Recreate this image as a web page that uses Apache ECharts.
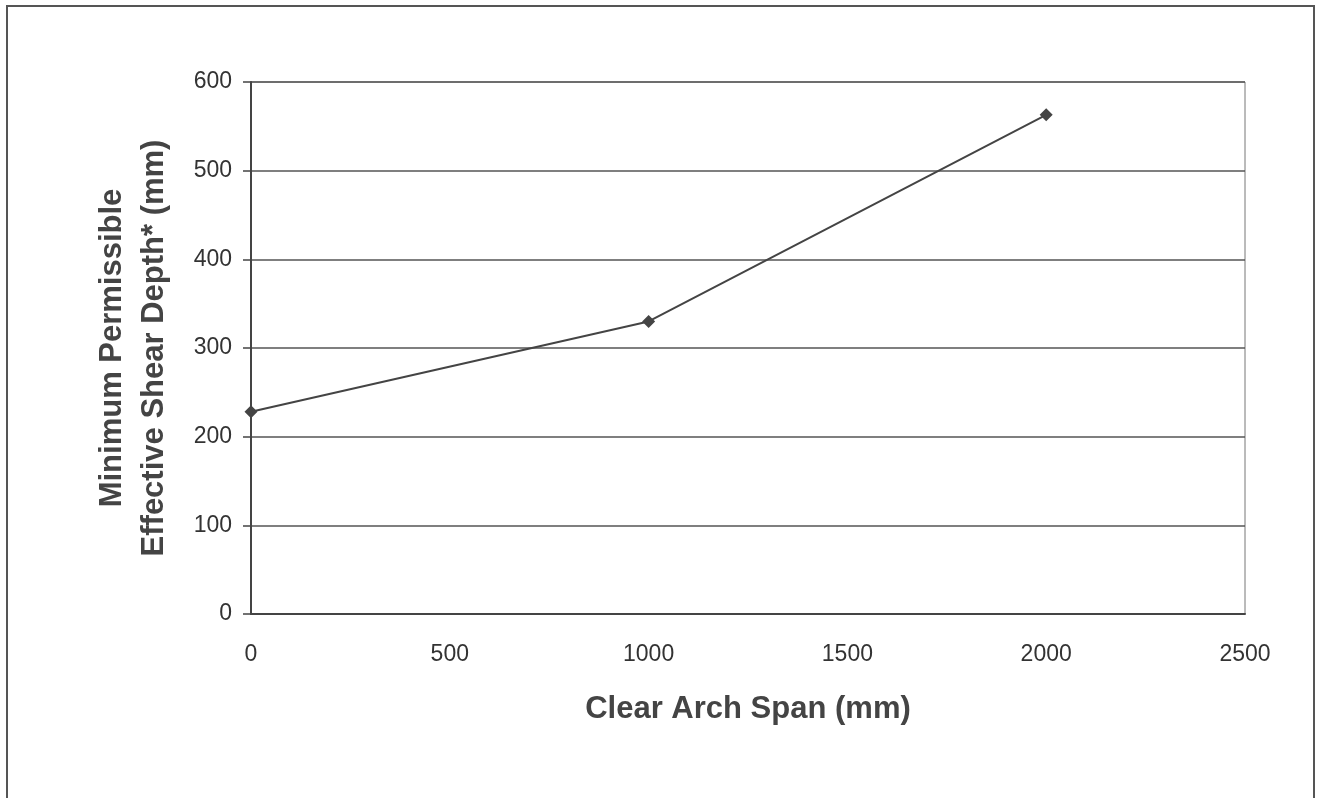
<!DOCTYPE html>
<html>
<head>
<meta charset="utf-8">
<script src="https://cdn.jsdelivr.net/npm/echarts@6/dist/echarts.min.js"></script>
<style>
html,body{margin:0;padding:0;background:#fff;}
#frame{position:absolute;left:6px;top:5px;width:1309px;height:800px;border:2px solid #555;box-sizing:border-box;}
#chart{position:absolute;left:0;top:0;width:1321px;height:798px;}
</style>
</head>
<body>
<div id="frame"></div>
<div id="chart"></div>
<script>
var spans = [0, 1000, 2000];
var depths = [228, 330, 563];
var xTitle = 'Clear Arch Span (mm)';
var yTitle = 'Minimum Permissible\nEffective Shear Depth* (mm)';

var chart = echarts.init(document.getElementById('chart'));
var option = {
  animation: false,
  grid: {
    left: 251,
    right: 76,
    top: 82,
    bottom: 184,
    show: true,
    borderColor: '#777',
    borderWidth: 1
  },
  xAxis: {
    type: 'value',
    min: 0,
    max: 2500,
    interval: 500,
    name: xTitle,
    nameLocation: 'middle',
    nameGap: 80,
    nameTextStyle: { fontSize: 31, fontWeight: 'bold', color: '#444', fontFamily: 'Liberation Sans, Arial' },
    axisLine: { lineStyle: { color: '#444', width: 2 } },
    axisTick: { show: false },
    axisLabel: {
      fontSize: 23, color: '#333', margin: 29, fontFamily: 'Liberation Sans, Arial',
      formatter: function (v) { return String(v); }
    },
    splitLine: { show: false }
  },
  yAxis: {
    type: 'value',
    min: 0,
    max: 600,
    interval: 100,
    name: yTitle,
    nameLocation: 'middle',
    nameGap: 76,
    nameTextStyle: { fontSize: 31, fontWeight: 'bold', color: '#444', lineHeight: 42, fontFamily: 'Liberation Sans, Arial' },
    axisLine: { show: true, lineStyle: { color: '#444', width: 2 } },
    axisTick: { show: true, length: 8, lineStyle: { color: '#444', width: 1.5 } },
    axisLabel: {
      fontSize: 23, color: '#333', margin: 19, fontFamily: 'Liberation Sans, Arial',
      formatter: function (v) { return String(v); }
    },
    splitLine: { show: true, lineStyle: { color: '#555', width: 1.5 } }
  },
  series: [{
    type: 'line',
    data: spans.map(function (s, i) { return [s, depths[i]]; }),
    symbol: 'diamond',
    symbolSize: 13,
    itemStyle: { color: '#444' },
    lineStyle: { color: '#444', width: 2 }
  }]
};
chart.setOption(option);
</script>
</body>
</html>
